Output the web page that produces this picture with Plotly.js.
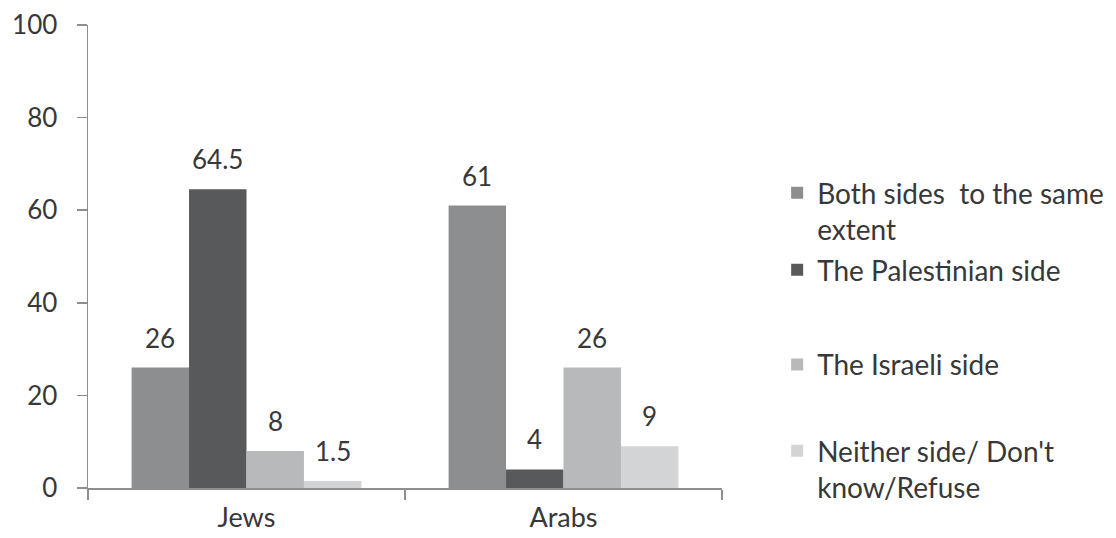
<!DOCTYPE html>
<html>
<head>
<meta charset="utf-8">
<script src="https://cdn.plot.ly/plotly-3.0.1.min.js"></script>
<style>html,body{margin:0;padding:0;background:#fff;}#chart{width:1116px;height:538px;}</style>
</head>
<body>
<div id="chart"></div>
<script>
const categories = ["Jews", "Arabs"];
const seriesNames = [
  "Both sides  to the same<br>extent",
  "The Palestinian side",
  "The Israeli side",
  "Neither side/ Don't<br>know/Refuse"
];
const bothSides = [26, 61];
const palestinianSide = [64.5, 4];
const israeliSide = [8, 26];
const neitherSide = [1.5, 9];
const seriesValues = [bothSides, palestinianSide, israeliSide, neitherSide];
const seriesColors = ["#8d8e90", "#58595b", "#b8b9bb", "#d3d4d6"];
const yTicks = [0, 20, 40, 60, 80, 100];

const FONT = "Lato, 'Open Sans', sans-serif";
const TXT = "#383838";
const bargap = 0.275;
const nSeries = seriesValues.length;
const barW = (1 - bargap) / nSeries;

const legendIds = ["legend", "legend2", "legend3", "legend4"];
const legendY = [0.598, 0.471, 0.266, 0.041];

const traces = seriesValues.map((vals, j) => ({
  type: "bar",
  name: seriesNames[j],
  x: categories,
  y: vals,
  marker: {color: seriesColors[j], line: {width: 0}},
  legend: legendIds[j],
  showlegend: true,
  hoverinfo: "skip"
}));

const annotations = [];
seriesValues.forEach((vals, j) => {
  vals.forEach((v, i) => {
    annotations.push({
      xref: "x", yref: "y",
      x: i - (1 - bargap) / 2 + barW * (j + 0.5),
      y: v,
      text: String(v),
      showarrow: false,
      yanchor: "middle",
      yshift: 30,
      font: {family: FONT, size: 26, color: TXT}
    });
  });
});

const layout = {
  width: 1116, height: 538,
  margin: {l: 88, r: 394, t: 25, b: 50, autoexpand: false},
  paper_bgcolor: "#ffffff",
  plot_bgcolor: "#ffffff",
  showlegend: true,
  barmode: "group",
  bargap: bargap,
  bargroupgap: 0,
  font: {family: FONT, size: 26, color: TXT},
  xaxis: {
    type: "category",
    showline: true, linecolor: "#8e8e8e", linewidth: 1.5,
    ticks: "outside", tickson: "boundaries", ticklen: 10, tickcolor: "#8e8e8e", tickwidth: 1.5,
    tickfont: {family: FONT, size: 27, color: TXT},
    ticklabelstandoff: 5,
    showgrid: false, zeroline: false
  },
  yaxis: {
    range: [0, 100],
    tickvals: yTicks,
    showline: true, linecolor: "#8e8e8e", linewidth: 1.5,
    ticks: "outside", ticklen: 10, tickcolor: "#8e8e8e", tickwidth: 1.5,
    tickfont: {family: FONT, size: 26, color: TXT},
    ticklabelstandoff: 14,
    showgrid: false, zeroline: false
  },
  annotations: annotations
};

legendIds.forEach((id, j) => {
  layout[id] = {
    visible: true,
    x: 1.087, xanchor: "left",
    y: legendY[j], yanchor: "middle",
    valign: "top",
    bgcolor: "rgba(0,0,0,0)",
    font: {family: FONT, size: 28, color: TXT}
  };
});

Plotly.newPlot("chart", traces, layout, {displayModeBar: false, staticPlot: true});
</script>
</body>
</html>
